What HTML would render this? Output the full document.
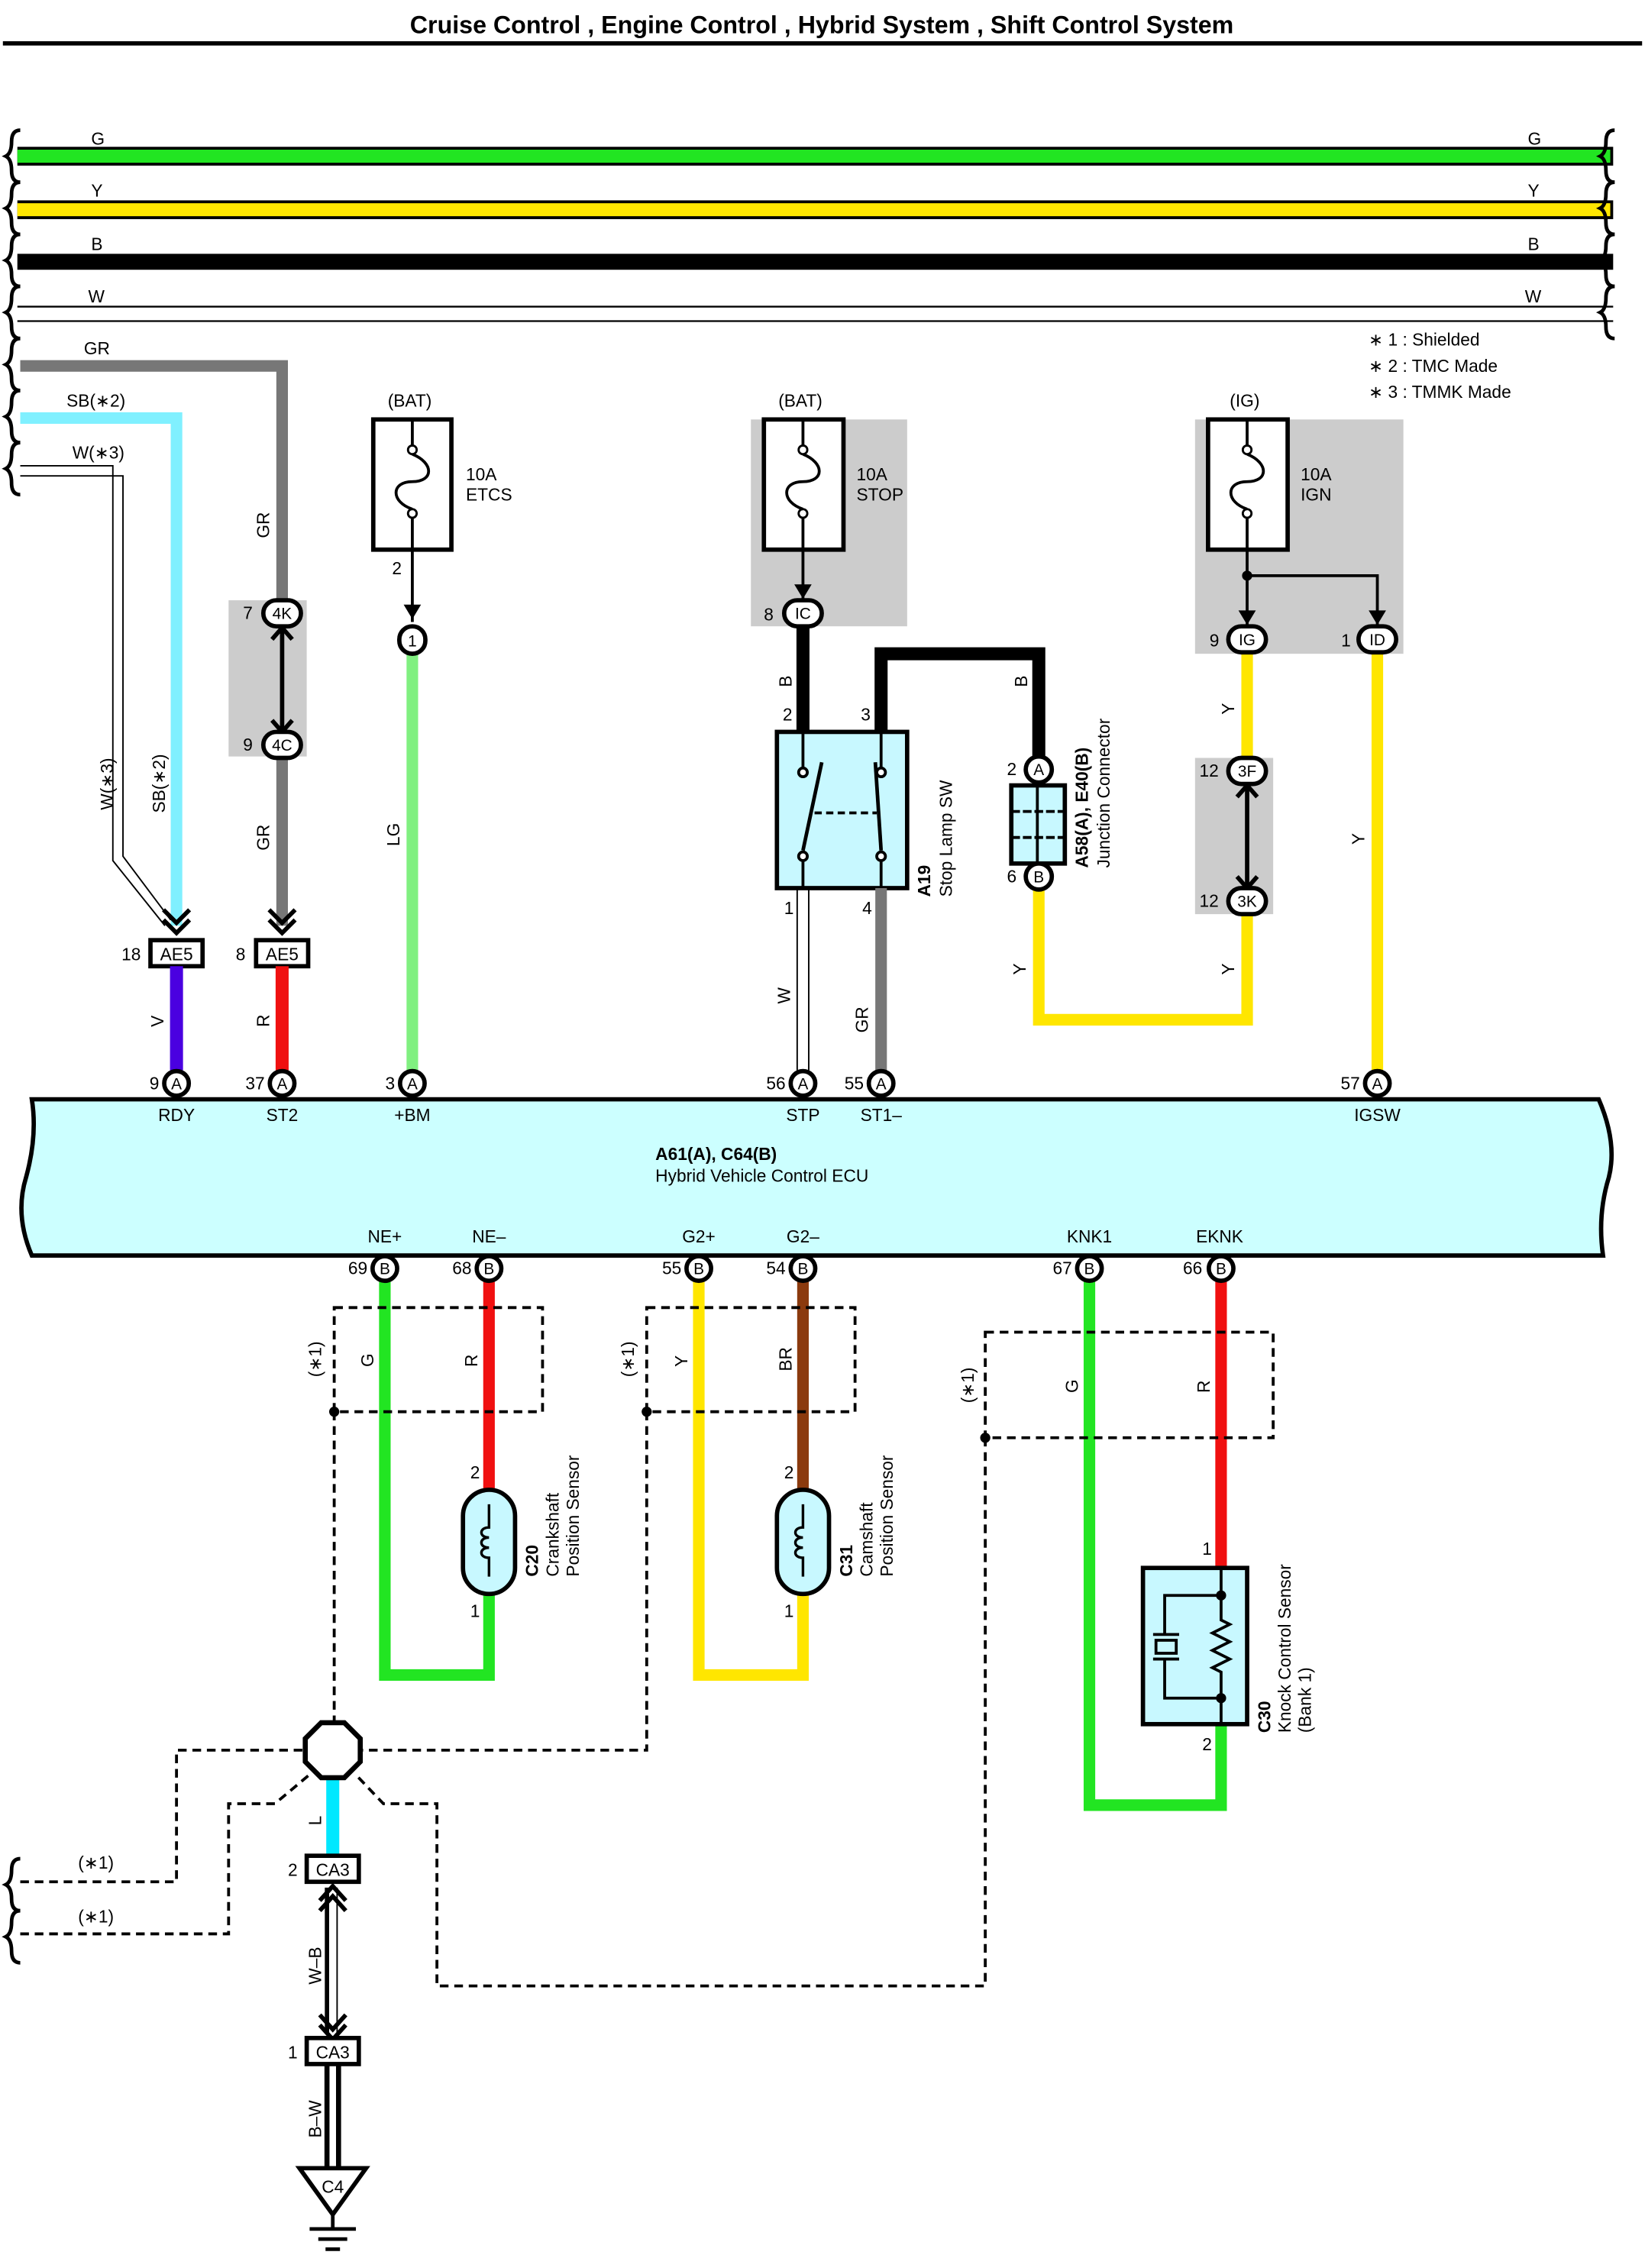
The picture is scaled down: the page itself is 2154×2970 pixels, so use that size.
<!DOCTYPE html>
<html><head><meta charset="utf-8"><style>
html,body{margin:0;padding:0;background:#fff}
svg{display:block}
text{font-family:"Liberation Sans",sans-serif;fill:#000}
</style></head><body>
<svg width="2154" height="2970" viewBox="0 0 1137 1568" preserveAspectRatio="none" xmlns="http://www.w3.org/2000/svg">
<defs>
<g id="wav"><path d="M14,0 q-6,0 -6,8 q0,8 -4,10 q4,2 4,10 q0,8 6,8" fill="none" stroke="#000" stroke-width="2.5"/></g>
</defs>
<!-- title -->
<text x="568" y="23" font-size="17" font-weight="bold" text-anchor="middle">Cruise Control , Engine Control , Hybrid System , Shift Control System</text>
<line x1="2" y1="30" x2="1135" y2="30" stroke="#000" stroke-width="3"/>

<!-- bus wires -->
<line x1="12" y1="108" x2="1115" y2="108" stroke="#000" stroke-width="13"/>
<line x1="12" y1="108" x2="1113" y2="108" stroke="#22e522" stroke-width="9"/>
<line x1="12" y1="145" x2="1115" y2="145" stroke="#000" stroke-width="13"/>
<line x1="12" y1="145" x2="1113" y2="145" stroke="#ffe600" stroke-width="9"/>
<line x1="12" y1="181" x2="1115" y2="181" stroke="#000" stroke-width="11"/>
<line x1="12" y1="212" x2="1115" y2="212" stroke="#000" stroke-width="1.2"/>
<line x1="12" y1="222" x2="1115" y2="222" stroke="#000" stroke-width="1.2"/>
<text x="63" y="100" font-size="12">G</text><text x="1056" y="100" font-size="12">G</text>
<text x="63" y="136" font-size="12">Y</text><text x="1056" y="136" font-size="12">Y</text>
<text x="63" y="173" font-size="12">B</text><text x="1056" y="173" font-size="12">B</text>
<text x="61" y="209" font-size="12">W</text><text x="1054" y="209" font-size="12">W</text>
<!-- wavy edges -->
<use href="#wav" x="0" y="90"/><use href="#wav" x="0" y="126"/><use href="#wav" x="0" y="162"/><use href="#wav" x="0" y="198"/>
<use href="#wav" x="0" y="234"/><use href="#wav" x="0" y="270"/><use href="#wav" x="0" y="306"/>
<use href="#wav" x="1102" y="90"/><use href="#wav" x="1102" y="126"/><use href="#wav" x="1102" y="162"/><use href="#wav" x="1102" y="198"/>

<!-- notes -->
<text x="946" y="239" font-size="12">∗ 1 : Shielded</text>
<text x="946" y="257" font-size="12">∗ 2 : TMC Made</text>
<text x="946" y="275" font-size="12">∗ 3 : TMMK Made</text>

<!-- GR wire -->
<path d="M14,253 H195 V420" fill="none" stroke="#777" stroke-width="8"/>
<text x="58" y="245" font-size="12">GR</text>
<!-- SB -->
<path d="M14,289 H122 V640" fill="none" stroke="#80f0ff" stroke-width="8"/>
<text x="46" y="281" font-size="12">SB(∗2)</text>
<!-- W(*3) -->
<path d="M14,322 H78 V595 L114,640" fill="none" stroke="#000" stroke-width="1"/>
<path d="M14,329 H85 V592 L118,636" fill="none" stroke="#000" stroke-width="1"/>
<text x="50" y="317" font-size="12">W(∗3)</text>
<text transform="translate(78,560) rotate(-90)" font-size="12">W(∗3)</text>
<text transform="translate(114,562) rotate(-90)" font-size="12">SB(∗2)</text>
<text transform="translate(186,372) rotate(-90)" font-size="12">GR</text>

<!-- 4K/4C -->
<rect x="158" y="415" width="54" height="108" fill="#ccc"/>
<line x1="195" y1="433" x2="195" y2="506" stroke="#000" stroke-width="3"/>
<path d="M188,442 L195,434 L202,442 M188,498 L195,506 L202,498" fill="none" stroke="#000" stroke-width="3"/>
<path d="M195,523 V640" stroke="#777" stroke-width="8"/>
<text transform="translate(186,588) rotate(-90)" font-size="12">GR</text>
<path d="M186,629 L195,638 L204,629 M186,636 L195,645 L204,636" fill="none" stroke="#000" stroke-width="3"/>
<path d="M113,629 L122,638 L131,629 M113,636 L122,645 L131,636" fill="none" stroke="#000" stroke-width="3"/>
<!-- AE5 boxes -->
<rect x="104" y="650" width="36" height="18" fill="#fff" stroke="#000" stroke-width="3"/>
<text x="122" y="664" font-size="12" text-anchor="middle">AE5</text><text x="84" y="664" font-size="12">18</text>
<rect x="177" y="650" width="36" height="18" fill="#fff" stroke="#000" stroke-width="3"/>
<text x="195" y="664" font-size="12" text-anchor="middle">AE5</text><text x="163" y="664" font-size="12">8</text>
<line x1="122" y1="668" x2="122" y2="740" stroke="#4a00e0" stroke-width="9"/>
<line x1="195" y1="668" x2="195" y2="740" stroke="#f01010" stroke-width="9"/>
<text transform="translate(113,710) rotate(-90)" font-size="12">V</text>
<text transform="translate(186,710) rotate(-90)" font-size="12">R</text>

<!-- ETCS fuse -->
<text x="268" y="281" font-size="12">(BAT)</text>
<rect x="258" y="290" width="54" height="90" fill="#fff" stroke="#000" stroke-width="3"/>
<path d="M285,290 V308 M285,380 V358" stroke="#000" stroke-width="2"/>
<circle cx="285" cy="311" r="3" fill="#fff" stroke="#000" stroke-width="1.5"/>
<circle cx="285" cy="355" r="3" fill="#fff" stroke="#000" stroke-width="1.5"/>
<path d="M285,314 C300,320 300,333 285,333 C270,333 270,347 285,352" fill="none" stroke="#000" stroke-width="2"/>
<text x="322" y="332" font-size="12">10A</text><text x="322" y="346" font-size="12">ETCS</text>
<line x1="285" y1="380" x2="285" y2="430" stroke="#000" stroke-width="2"/>
<path d="M279,418 L285,428 L291,418 Z" fill="#000"/>
<text x="271" y="397" font-size="12">2</text>
<line x1="285" y1="452" x2="285" y2="740" stroke="#80f080" stroke-width="8"/>
<rect x="276" y="433" width="18" height="19" rx="9" fill="#fff" stroke="#000" stroke-width="3"/>
<text x="285" y="447" font-size="11" text-anchor="middle">1</text>
<text transform="translate(276,585) rotate(-90)" font-size="12">LG</text>

<!-- STOP fuse -->
<rect x="519" y="290" width="108" height="143" fill="#ccc"/>
<text x="538" y="281" font-size="12">(BAT)</text>
<rect x="528" y="290" width="55" height="90" fill="#fff" stroke="#000" stroke-width="3"/>
<path d="M555,290 V308 M555,380 V358" stroke="#000" stroke-width="2"/>
<circle cx="555" cy="311" r="3" fill="#fff" stroke="#000" stroke-width="1.5"/>
<circle cx="555" cy="355" r="3" fill="#fff" stroke="#000" stroke-width="1.5"/>
<path d="M555,314 C570,320 570,333 555,333 C540,333 540,347 555,352" fill="none" stroke="#000" stroke-width="2"/>
<text x="592" y="332" font-size="12">10A</text><text x="592" y="346" font-size="12">STOP</text>
<line x1="555" y1="380" x2="555" y2="414" stroke="#000" stroke-width="2"/>
<path d="M549,404 L555,414 L561,404 Z" fill="#000"/>
<line x1="555" y1="433" x2="555" y2="506" stroke="#000" stroke-width="9"/>
<text x="528" y="429" font-size="12">8</text>
<text transform="translate(547,475) rotate(-90)" font-size="12">B</text>
<text x="541" y="498" font-size="12">2</text><text x="595" y="498" font-size="12">3</text>
<path d="M609,506 V452 H718 V523" fill="none" stroke="#000" stroke-width="9"/>
<text transform="translate(710,475) rotate(-90)" font-size="12">B</text>
<!-- switch -->
<rect x="537" y="506" width="90" height="108" fill="#c8f8ff" stroke="#000" stroke-width="3"/>
<path d="M555,506 V531 M555,595 V614 M609,506 V531 M609,595 V614" stroke="#000" stroke-width="2"/>
<circle cx="555" cy="534" r="3" fill="#fff" stroke="#000" stroke-width="2"/>
<circle cx="555" cy="592" r="3" fill="#fff" stroke="#000" stroke-width="2"/>
<circle cx="609" cy="534" r="3" fill="#fff" stroke="#000" stroke-width="2"/>
<circle cx="609" cy="592" r="3" fill="#fff" stroke="#000" stroke-width="2"/>
<line x1="555" y1="588" x2="568" y2="527" stroke="#000" stroke-width="2.5"/>
<line x1="609" y1="588" x2="605" y2="527" stroke="#000" stroke-width="2.5"/>
<line x1="563" y1="562" x2="606" y2="562" stroke="#000" stroke-width="2" stroke-dasharray="5,3"/>
<text x="542" y="632" font-size="12">1</text><text x="596" y="632" font-size="12">4</text>
<text transform="translate(643,620) rotate(-90)" font-size="12" font-weight="bold">A19</text>
<text transform="translate(658,620) rotate(-90)" font-size="12">Stop Lamp SW</text>
<line x1="551" y1="614" x2="551" y2="740" stroke="#000" stroke-width="1"/>
<line x1="559" y1="614" x2="559" y2="740" stroke="#000" stroke-width="1"/>
<text transform="translate(546,694) rotate(-90)" font-size="12">W</text>
<line x1="609" y1="614" x2="609" y2="740" stroke="#777" stroke-width="8"/>
<text transform="translate(600,714) rotate(-90)" font-size="12">GR</text>
<!-- junction connector -->
<path d="M718,614 V705 H862 V632" fill="none" stroke="#ffe600" stroke-width="8"/>
<rect x="699" y="543" width="37" height="54" fill="#c8f8ff" stroke="#000" stroke-width="3"/>
<line x1="717" y1="543" x2="717" y2="597" stroke="#000" stroke-width="2"/>
<line x1="699" y1="561" x2="736" y2="561" stroke="#000" stroke-width="2" stroke-dasharray="6,2"/>
<line x1="699" y1="579" x2="736" y2="579" stroke="#000" stroke-width="2" stroke-dasharray="6,2"/>
<circle cx="718" cy="532" r="9" fill="#fff" stroke="#000" stroke-width="3"/><text x="718" y="536" font-size="11" text-anchor="middle">A</text>
<circle cx="718" cy="606" r="9" fill="#fff" stroke="#000" stroke-width="3"/><text x="718" y="610" font-size="11" text-anchor="middle">B</text>
<text x="696" y="536" font-size="12">2</text><text x="696" y="610" font-size="12">6</text>
<text transform="translate(752,600) rotate(-90)" font-size="12" font-weight="bold">A58(A), E40(B)</text>
<text transform="translate(767,600) rotate(-90)" font-size="12">Junction Connector</text>
<text transform="translate(709,674) rotate(-90)" font-size="12">Y</text>
<text transform="translate(853,674) rotate(-90)" font-size="12">Y</text>

<!-- IGN fuse -->
<rect x="826" y="290" width="144" height="162" fill="#ccc"/>
<text x="850" y="281" font-size="12">(IG)</text>
<rect x="835" y="290" width="55" height="90" fill="#fff" stroke="#000" stroke-width="3"/>
<path d="M862,290 V308 M862,380 V358" stroke="#000" stroke-width="2"/>
<circle cx="862" cy="311" r="3" fill="#fff" stroke="#000" stroke-width="1.5"/>
<circle cx="862" cy="355" r="3" fill="#fff" stroke="#000" stroke-width="1.5"/>
<path d="M862,314 C877,320 877,333 862,333 C847,333 847,347 862,352" fill="none" stroke="#000" stroke-width="2"/>
<text x="899" y="332" font-size="12">10A</text><text x="899" y="346" font-size="12">IGN</text>
<path d="M862,380 V432 M862,398 H952 V432" fill="none" stroke="#000" stroke-width="2"/>
<circle cx="862" cy="398" r="3.5" fill="#000"/>
<path d="M856,422 L862,432 L868,422 Z M946,422 L952,432 L958,422 Z" fill="#000"/>
<line x1="862" y1="452" x2="862" y2="524" stroke="#ffe600" stroke-width="8"/>
<line x1="952" y1="452" x2="952" y2="740" stroke="#ffe600" stroke-width="8"/>
<text transform="translate(853,494) rotate(-90)" font-size="12">Y</text>
<text transform="translate(943,584) rotate(-90)" font-size="12">Y</text>
<rect x="826" y="524" width="54" height="108" fill="#ccc"/>
<line x1="862" y1="542" x2="862" y2="614" stroke="#000" stroke-width="3"/>
<path d="M855,551 L862,543 L869,551 M855,606 L862,614 L869,606" fill="none" stroke="#000" stroke-width="3"/>
<text x="829" y="537" font-size="12">12</text><text x="829" y="627" font-size="12">12</text>
<text x="836" y="447" font-size="12">9</text><text x="927" y="447" font-size="12">1</text>

<!-- named connectors rounded -->
<g font-size="11" text-anchor="middle">
<rect x="182" y="415" width="26" height="18" rx="9" fill="#fff" stroke="#000" stroke-width="3"/><text x="195" y="428">4K</text>
<rect x="182" y="506" width="26" height="18" rx="9" fill="#fff" stroke="#000" stroke-width="3"/><text x="195" y="519">4C</text>
<rect x="542" y="415" width="26" height="18" rx="9" fill="#fff" stroke="#000" stroke-width="3"/><text x="555" y="428">IC</text>
<rect x="849" y="433" width="26" height="18" rx="9" fill="#fff" stroke="#000" stroke-width="3"/><text x="862" y="446">IG</text>
<rect x="939" y="433" width="26" height="18" rx="9" fill="#fff" stroke="#000" stroke-width="3"/><text x="952" y="446">ID</text>
<rect x="849" y="524" width="26" height="18" rx="9" fill="#fff" stroke="#000" stroke-width="3"/><text x="862" y="537">3F</text>
<rect x="849" y="614" width="26" height="18" rx="9" fill="#fff" stroke="#000" stroke-width="3"/><text x="862" y="627">3K</text>
</g>
<text x="168" y="428" font-size="12">7</text><text x="168" y="519" font-size="12">9</text>

<!-- ECU -->
<path d="M22,760 H1105 Q1118,790 1112,814 Q1104,840 1108,868 H22 Q10,840 18,814 Q26,785 22,760 Z" fill="#ccffff" stroke="#000" stroke-width="3"/>
<text x="453" y="802" font-size="12" font-weight="bold">A61(A), C64(B)</text>
<text x="453" y="817" font-size="12">Hybrid Vehicle Control ECU</text>
<g font-size="12" text-anchor="middle">
<text x="122" y="775">RDY</text><text x="195" y="775">ST2</text><text x="285" y="775">+BM</text>
<text x="555" y="775">STP</text><text x="609" y="775">ST1–</text><text x="952" y="775">IGSW</text>
<text x="266" y="859">NE+</text><text x="338" y="859">NE–</text><text x="483" y="859">G2+</text><text x="555" y="859">G2–</text>
<text x="753" y="859">KNK1</text><text x="843" y="859">EKNK</text>
</g>
<g font-size="11" text-anchor="middle">
<circle cx="122" cy="749" r="8.5" fill="#fff" stroke="#000" stroke-width="3"/><text x="122" y="753">A</text>
<circle cx="195" cy="749" r="8.5" fill="#fff" stroke="#000" stroke-width="3"/><text x="195" y="753">A</text>
<circle cx="285" cy="749" r="8.5" fill="#fff" stroke="#000" stroke-width="3"/><text x="285" y="753">A</text>
<circle cx="555" cy="749" r="8.5" fill="#fff" stroke="#000" stroke-width="3"/><text x="555" y="753">A</text>
<circle cx="609" cy="749" r="8.5" fill="#fff" stroke="#000" stroke-width="3"/><text x="609" y="753">A</text>
<circle cx="952" cy="749" r="8.5" fill="#fff" stroke="#000" stroke-width="3"/><text x="952" y="753">A</text>
</g>
<g font-size="12" text-anchor="end">
<text x="110" y="753">9</text><text x="183" y="753">37</text><text x="273" y="753">3</text>
<text x="543" y="753">56</text><text x="597" y="753">55</text><text x="940" y="753">57</text>
<text x="254" y="881">69</text><text x="326" y="881">68</text><text x="471" y="881">55</text><text x="543" y="881">54</text>
<text x="741" y="881">67</text><text x="831" y="881">66</text>
</g>

<!-- lower wires -->
<path d="M266,886 V1158 H338 V1102" fill="none" stroke="#22e522" stroke-width="8"/>
<line x1="338" y1="886" x2="338" y2="1032" stroke="#f01010" stroke-width="8"/>
<path d="M483,886 V1158 H555 V1102" fill="none" stroke="#ffe600" stroke-width="8"/>
<line x1="555" y1="886" x2="555" y2="1032" stroke="#8b3a0e" stroke-width="8"/>
<path d="M753,886 V1248 H844 V1192" fill="none" stroke="#22e522" stroke-width="8"/>
<line x1="844" y1="886" x2="844" y2="1084" stroke="#f01010" stroke-width="8"/>
<g font-size="11" text-anchor="middle">
<circle cx="266" cy="877" r="8.5" fill="#fff" stroke="#000" stroke-width="3"/><text x="266" y="881">B</text>
<circle cx="338" cy="877" r="8.5" fill="#fff" stroke="#000" stroke-width="3"/><text x="338" y="881">B</text>
<circle cx="483" cy="877" r="8.5" fill="#fff" stroke="#000" stroke-width="3"/><text x="483" y="881">B</text>
<circle cx="555" cy="877" r="8.5" fill="#fff" stroke="#000" stroke-width="3"/><text x="555" y="881">B</text>
<circle cx="753" cy="877" r="8.5" fill="#fff" stroke="#000" stroke-width="3"/><text x="753" y="881">B</text>
<circle cx="844" cy="877" r="8.5" fill="#fff" stroke="#000" stroke-width="3"/><text x="844" y="881">B</text>
</g>
<g font-size="12">
<text transform="translate(258,945) rotate(-90)">G</text>
<text transform="translate(330,945) rotate(-90)">R</text>
<text transform="translate(475,945) rotate(-90)">Y</text>
<text transform="translate(547,948) rotate(-90)">BR</text>
<text transform="translate(745,963) rotate(-90)">G</text>
<text transform="translate(836,963) rotate(-90)">R</text>
<text transform="translate(222,952) rotate(-90)">(∗1)</text>
<text transform="translate(438,952) rotate(-90)">(∗1)</text>
<text transform="translate(673,970) rotate(-90)">(∗1)</text>
<text x="325" y="1022">2</text><text x="325" y="1118">1</text>
<text x="542" y="1022">2</text><text x="542" y="1118">1</text>
<text x="831" y="1075">1</text><text x="831" y="1210">2</text>
</g>
<!-- shield dashed boxes -->
<g fill="none" stroke="#000" stroke-width="2" stroke-dasharray="6,4">
<rect x="231" y="904" width="144" height="72"/>
<rect x="447" y="904" width="144" height="72"/>
<rect x="681" y="921" width="199" height="73"/>
<path d="M231,976 V1190"/>
<path d="M447,976 V1210 H250"/>
<path d="M681,994 V1373 H302 V1247 H265 L245,1226"/>
<path d="M14,1301 H122 V1210 H211"/>
<path d="M14,1337 H158 V1247 H190 L215,1226"/>
</g>
<circle cx="231" cy="976" r="3.5" fill="#000"/><circle cx="447" cy="976" r="3.5" fill="#000"/><circle cx="681" cy="994" r="3.5" fill="#000"/>
<text x="54" y="1292" font-size="12">(∗1)</text>
<text x="54" y="1329" font-size="12">(∗1)</text>
<use href="#wav" x="0" y="1285"/><use href="#wav" x="0" y="1321"/>

<!-- sensors -->
<rect x="320" y="1030" width="36" height="72" rx="18" fill="#c8f8ff" stroke="#000" stroke-width="3"/>
<path d="M338,1040 V1056 c-7,0 -7,7 0,7 c-7,0 -7,7 0,7 c-7,0 -7,7 0,7 V1090" fill="none" stroke="#000" stroke-width="1.8"/>
<text transform="translate(372,1090) rotate(-90)" font-size="12" font-weight="bold">C20</text>
<text transform="translate(386,1090) rotate(-90)" font-size="12">Crankshaft</text>
<text transform="translate(400,1090) rotate(-90)" font-size="12">Position Sensor</text>
<rect x="537" y="1030" width="36" height="72" rx="18" fill="#c8f8ff" stroke="#000" stroke-width="3"/>
<path d="M555,1040 V1056 c-7,0 -7,7 0,7 c-7,0 -7,7 0,7 c-7,0 -7,7 0,7 V1090" fill="none" stroke="#000" stroke-width="1.8"/>
<text transform="translate(589,1090) rotate(-90)" font-size="12" font-weight="bold">C31</text>
<text transform="translate(603,1090) rotate(-90)" font-size="12">Camshaft</text>
<text transform="translate(617,1090) rotate(-90)" font-size="12">Position Sensor</text>
<!-- knock -->
<rect x="790" y="1084" width="72" height="108" fill="#c8f8ff" stroke="#000" stroke-width="3"/>
<path d="M844,1084 V1120 l6,3 -12,6 12,6 -12,6 12,6 -12,6 6,3 V1192" fill="none" stroke="#000" stroke-width="2"/>
<path d="M844,1103 H805 V1130 M797,1130 H815 M844,1174 H805 V1147 M797,1147 H815" fill="none" stroke="#000" stroke-width="2"/>
<rect x="799" y="1134" width="14" height="9" fill="none" stroke="#000" stroke-width="2"/>
<circle cx="844" cy="1103" r="3.5" fill="#000"/><circle cx="844" cy="1174" r="3.5" fill="#000"/>
<text transform="translate(878,1198) rotate(-90)" font-size="12" font-weight="bold">C30</text>
<text transform="translate(892,1198) rotate(-90)" font-size="12">Knock Control Sensor</text>
<text transform="translate(906,1198) rotate(-90)" font-size="12">(Bank 1)</text>

<!-- ground -->
<line x1="230" y1="1228" x2="230" y2="1283" stroke="#00e8ff" stroke-width="9"/>
<text transform="translate(222,1262) rotate(-90)" font-size="12">L</text>
<polygon points="222,1191 238,1191 249,1202 249,1218 238,1229 222,1229 211,1218 211,1202" fill="#fff" stroke="#000" stroke-width="3.5"/>
<rect x="212" y="1283" width="36" height="18" fill="#fff" stroke="#000" stroke-width="3"/>
<text x="230" y="1297" font-size="12" text-anchor="middle">CA3</text><text x="199" y="1297" font-size="12">2</text>
<line x1="226" y1="1305" x2="226" y2="1405" stroke="#000" stroke-width="3"/>
<line x1="233" y1="1305" x2="233" y2="1405" stroke="#000" stroke-width="1"/>
<path d="M221,1314 L230,1304 L239,1314 M221,1321 L230,1311 L239,1321 M221,1393 L230,1403 L239,1393 M221,1400 L230,1410 L239,1400" fill="none" stroke="#000" stroke-width="3"/>
<text transform="translate(222,1372) rotate(-90)" font-size="12">W–B</text>
<rect x="212" y="1409" width="36" height="18" fill="#fff" stroke="#000" stroke-width="3"/>
<text x="230" y="1423" font-size="12" text-anchor="middle">CA3</text><text x="199" y="1423" font-size="12">1</text>
<line x1="226" y1="1427" x2="226" y2="1498" stroke="#000" stroke-width="3.5"/>
<line x1="234" y1="1427" x2="234" y2="1498" stroke="#000" stroke-width="3.5"/>
<text transform="translate(222,1478) rotate(-90)" font-size="12">B–W</text>
<polygon points="207,1499 253,1499 230,1531" fill="#fff" stroke="#000" stroke-width="3"/>
<text x="230" y="1516" font-size="12" text-anchor="middle">C4</text>
<path d="M230,1531 V1540 M214,1541 H246 M220,1548 H240 M225,1555 H235" stroke="#000" stroke-width="2.5"/>
</svg>
</body></html>
